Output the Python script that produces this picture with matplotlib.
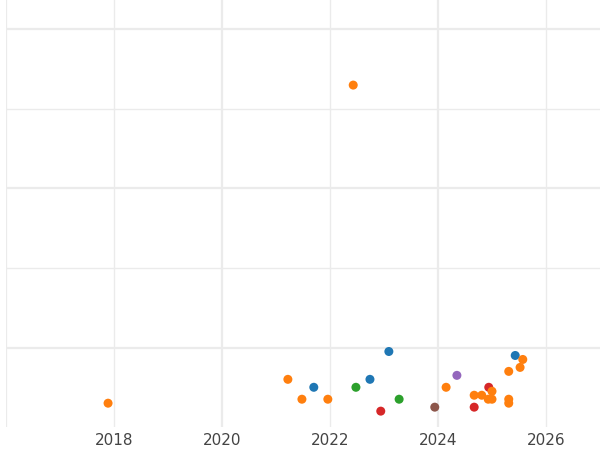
import matplotlib
matplotlib.use("Agg")
import matplotlib.pyplot as plt

years = [2017.89, 2021.22, 2021.48, 2021.70, 2021.96, 2022.43, 2022.48, 2022.74, 2022.94, 2023.09,
         2023.28, 2023.94, 2024.15, 2024.35, 2024.67, 2024.67, 2024.81, 2024.94, 2025.0, 2024.93,
         2025.0, 2025.31, 2025.31, 2025.31, 2025.52, 2025.43, 2025.57]
values = [6, 12, 7, 10, 7, 86, 10, 12, 4, 19,
          7, 5, 10, 13, 5, 8, 8, 10, 9, 7,
          7, 14, 7, 6, 15, 18, 17]
groups = ['o', 'o', 'o', 'b', 'o', 'o', 'g', 'b', 'r', 'b',
          'g', 'n', 'o', 'p', 'r', 'o', 'o', 'r', 'o', 'o',
          'o', 'o', 'o', 'o', 'o', 'b', 'o']
palette = {'b': '#1f77b4', 'o': '#ff7f0e', 'g': '#2ca02c', 'r': '#d62728', 'p': '#9467bd', 'n': '#8c564b'}
xticks = [2018, 2020, 2022, 2024, 2026]

fig = plt.figure(figsize=(6, 4.5), dpi=100)
ax = fig.add_axes([0.01, 0.051, 0.99, 0.949])
for x in range(2016, 2028, 2):
    ax.axvline(x, color='#ebebeb', lw=1.6 if x % 4 == 0 else 1.0, zorder=0)
for y in range(20, 101, 20):
    ax.axhline(y, color='#ebebeb', lw=1.6 if y % 40 == 20 else 1.0, zorder=0)
ax.scatter(years, values, c=[palette[g] for g in groups], s=42, zorder=3, linewidths=0)
ax.set_xlim(2016, 2027)
ax.set_ylim(0, 107.4)
ax.set_xticks(xticks)
ax.set_yticks([])
ax.tick_params(axis='x', length=0, labelsize=11, labelcolor='#444444', pad=4)
for s in ax.spines.values():
    s.set_visible(False)
fig.savefig('out.png')
